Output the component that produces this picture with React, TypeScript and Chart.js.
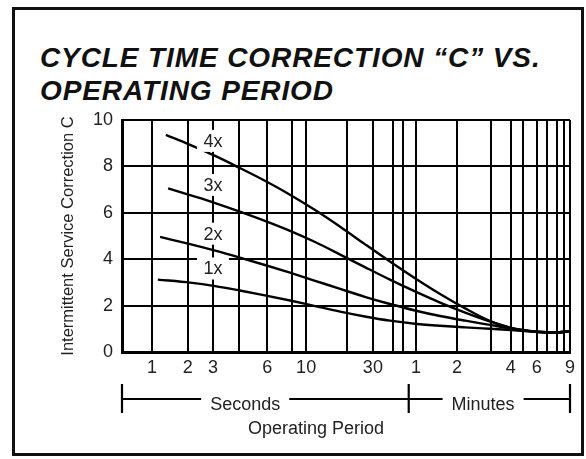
import { useEffect, useRef } from 'react';
import { Chart, registerables } from 'chart.js';

Chart.register(...registerables);

const FONT = "'Liberation Sans', Arial, Helvetica, sans-serif";

// Non-uniform operating-period axis (0..100 axis units), grid line positions
const xGridPositions = [0, 6.7, 14.7, 20.3, 26.1, 32.4, 37.9, 41.1, 50.2, 56.0, 60.5, 62.7, 65.6, 74.8, 82.4, 86.8, 89.5, 92.6, 94.9, 97.1, 98.7, 100];
const xLabelPositions = [6.7, 14.7, 20.3, 32.4, 41.1, 56.0, 65.6, 74.8, 86.8, 92.6, 100];
const xLabelTexts = ['1', '2', '3', '6', '10', '30', '1', '2', '4', '6', '9'];
const secondsMinutesBoundary = 64.0;
const secondsLabelPos = 27.5;
const minutesLabelPos = 80.6;
const xTitlePos = 43.3;

const seriesNames = ['4x', '3x', '2x', '1x'];
const seriesLabelX = 20.3;
const seriesLabelY = [9.1, 7.2, 5.1, 3.6];

const x4 = [9.8, 15.2, 20.8, 26.3, 31.9, 37.5, 43.1, 48.7, 54.2, 59.8, 65.4, 71.0, 76.6, 82.1, 87.7, 93.3, 96.7, 100];
const y4 = [9.36, 8.93, 8.45, 7.93, 7.38, 6.78, 6.12, 5.40, 4.65, 3.90, 3.18, 2.50, 1.88, 1.34, 0.98, 0.86, 0.84, 0.9];
const x3 = [10.3, 15.2, 20.8, 26.3, 31.9, 37.5, 43.1, 48.7, 54.2, 59.8, 65.4, 71.0, 76.6, 82.1, 87.7, 93.3, 96.7, 100];
const y3 = [7.05, 6.76, 6.42, 6.05, 5.65, 5.22, 4.74, 4.20, 3.66, 3.12, 2.61, 2.13, 1.70, 1.32, 1.01, 0.86, 0.84, 0.9];
const x2 = [8.5, 15.2, 20.8, 26.3, 31.9, 37.5, 43.1, 48.7, 54.2, 59.8, 65.4, 71.0, 76.6, 82.1, 87.7, 93.3, 96.7, 100];
const y2 = [4.96, 4.65, 4.37, 4.07, 3.75, 3.42, 3.07, 2.72, 2.38, 2.07, 1.79, 1.55, 1.35, 1.17, 0.99, 0.86, 0.84, 0.9];
const x1 = [8.0, 15.2, 20.8, 26.3, 31.9, 37.5, 43.1, 48.7, 54.2, 59.8, 65.4, 71.0, 76.6, 82.1, 87.7, 93.3, 96.7, 100];
const y1 = [3.12, 2.99, 2.84, 2.65, 2.44, 2.22, 1.98, 1.74, 1.53, 1.35, 1.22, 1.13, 1.06, 1.00, 0.94, 0.86, 0.84, 0.9];

const seriesX = [x4, x3, x2, x1];
const seriesY = [y4, y3, y2, y1];

const yTitle = 'Intermittent Service Correction C';
const xTitle = 'Operating Period';

export default function App() {
  const ref = useRef<HTMLCanvasElement>(null);

  useEffect(() => {
    const canvas = ref.current;
    if (!canvas) return;

    const annot = {
      id: 'annot',
      afterDatasetsDraw(chart: any) {
        const { ctx, scales } = chart;
        const xs = scales.x;
        const ys = scales.y;
        ctx.save();
        ctx.font = `18px ${FONT}`;
        ctx.textAlign = 'center';
        ctx.textBaseline = 'middle';
        seriesNames.forEach((name, i) => {
          const px = xs.getPixelForValue(seriesLabelX);
          const py = ys.getPixelForValue(seriesLabelY[i]);
          ctx.fillStyle = '#fff';
          ctx.fillRect(px - 16, py - 11, 32, 22);
          ctx.fillStyle = '#222';
          ctx.fillText(name, px, py + 1);
        });
        ctx.restore();
      },
      afterDraw(chart: any) {
        const { ctx, scales, chartArea } = chart;
        const xs = scales.x;
        const left = chartArea.left;
        const right = chartArea.right;
        const mid = xs.getPixelForValue(secondsMinutesBoundary);
        const by = chartArea.bottom + 47;
        ctx.save();
        ctx.strokeStyle = '#000';
        ctx.lineWidth = 2.2;
        ctx.font = `18px ${FONT}`;
        ctx.textAlign = 'center';
        ctx.textBaseline = 'middle';
        const sx = xs.getPixelForValue(secondsLabelPos);
        const mx = xs.getPixelForValue(minutesLabelPos);
        const sw = ctx.measureText('Seconds').width / 2 + 9;
        const mw = ctx.measureText('Minutes').width / 2 + 9;
        ctx.beginPath();
        ctx.moveTo(left, by); ctx.lineTo(sx - sw, by);
        ctx.moveTo(sx + sw, by); ctx.lineTo(mid, by);
        ctx.moveTo(mid, by); ctx.lineTo(mx - mw, by);
        ctx.moveTo(mx + mw, by); ctx.lineTo(right, by);
        [left, mid, right].forEach((x) => {
          ctx.moveTo(x, by - 15); ctx.lineTo(x, by + 14);
        });
        ctx.stroke();
        ctx.fillStyle = '#222';
        ctx.fillText('Seconds', sx, by + 6);
        ctx.fillText('Minutes', mx, by + 6);
        ctx.fillText(xTitle, xs.getPixelForValue(xTitlePos), by + 30);
        // y title
        ctx.translate(68, (chartArea.top + chartArea.bottom) / 2);
        ctx.rotate(-Math.PI / 2);
        ctx.font = `16.5px ${FONT}`;
        ctx.fillText(yTitle, 0, 0);
        ctx.restore();
      },
    };

    const chart = new Chart(canvas, {
      type: 'line',
      data: {
        datasets: seriesNames.map((name, i) => ({
          label: name,
          data: seriesX[i].map((x, j) => ({ x, y: seriesY[i][j] })),
          borderColor: '#000',
          borderWidth: 2.4,
          pointRadius: 0,
          fill: false,
          tension: 0.4,
          cubicInterpolationMode: 'monotone' as const,
        })),
      },
      options: {
        animation: false,
        responsive: false,
        maintainAspectRatio: false,
        layout: { padding: { left: 0, right: 16, top: 120, bottom: 0 } },
        plugins: { legend: { display: false }, tooltip: { enabled: false } },
        scales: {
          x: {
            type: 'linear',
            min: 0,
            max: 100,
            afterFit(s: any) { s.height = 107; },
            afterBuildTicks(s: any) { s.ticks = xGridPositions.map((v) => ({ value: v })); },
            ticks: {
              autoSkip: false,
              maxRotation: 0,
              padding: 5,
              color: '#222',
              font: { size: 18, family: FONT },
              callback: (v: any) => {
                const idx = xLabelPositions.findIndex((p) => Math.abs(p - Number(v)) < 0.01);
                return idx >= 0 ? xLabelTexts[idx] : '';
              },
            },
            grid: { color: '#000', lineWidth: 2, drawTicks: false },
            border: { color: '#000', width: 3 },
          },
          y: {
            type: 'linear',
            min: 0,
            max: 10,
            afterFit(s: any) { s.width = 122; },
            ticks: {
              stepSize: 1,
              padding: 9,
              color: '#222',
              font: { size: 18, family: FONT },
              callback: (v: any) => (Number(v) % 2 === 0 ? String(v) : ''),
            },
            grid: { color: '#000', lineWidth: 2, drawTicks: false },
            border: { color: '#000', width: 3 },
          },
        },
      },
      plugins: [annot],
    } as any);

    return () => chart.destroy();
  }, []);

  return (
    <div style={{ position: 'absolute', left: 0, top: 0, width: 586, height: 459, background: '#fff' }}>
      <div
        style={{
          position: 'absolute',
          left: 12,
          top: 7,
          width: 572,
          height: 449,
          border: '3px solid #111',
          boxSizing: 'border-box',
        }}
      />
      <div
        style={{
          position: 'absolute',
          left: 40,
          top: 41,
          fontFamily: FONT,
          fontWeight: 'bold',
          fontStyle: 'italic',
          fontSize: 28,
          letterSpacing: '0.9px',
          lineHeight: '33px',
          color: '#111',
          whiteSpace: 'nowrap',
        }}
      >
        <div>CYCLE TIME CORRECTION “C” VS.</div>
        <div>OPERATING PERIOD</div>
      </div>
      <canvas
        ref={ref}
        width={586}
        height={459}
        style={{ position: 'absolute', left: 0, top: 0, width: 586, height: 459 }}
      />
    </div>
  );
}
